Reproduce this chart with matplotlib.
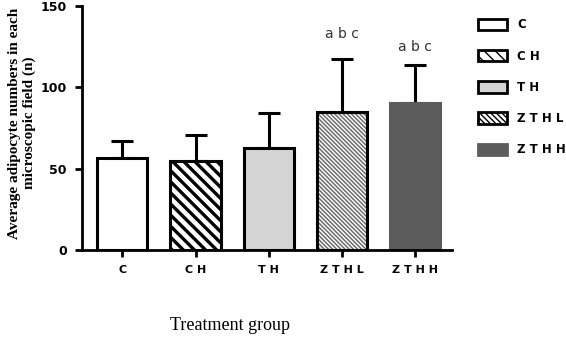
import matplotlib
matplotlib.use("Agg")
import matplotlib.pyplot as plt
from matplotlib.patches import Patch
import numpy as np

# data
groups = ["C", "CH", "TH", "ZTHL", "ZTHH"]
tick_labels = ["C", "C H", "T H", "Z T H L", "Z T H H"]
means = [56.4, 54.9, 62.5, 85.0, 90.2]
sd = [10.8, 15.8, 21.5, 32.2, 23.3]
sig_labels = ["", "", "", "a b c", "a b c"]
sig_y = [0, 0, 0, 132.5, 125.0]

fills = ["white", "white", "#d4d4d4", "white", "#5c5c5c"]
edges = ["black", "black", "black", "black", "#5c5c5c"]
hatches = [None, "\\\\\\", None, "\\" * 8, None]

fig = plt.figure(figsize=(5.66, 3.5), dpi=100)
fig.patch.set_facecolor("white")
ax = fig.add_axes([82 / 566, 1 - 250 / 350, 370 / 566, 244 / 350])

x = np.arange(len(groups))
w = 0.685
handles = []
for i in range(len(groups)):
    ax.errorbar(x[i], means[i], yerr=[[0], [sd[i]]], fmt="none",
                ecolor="black", elinewidth=2.2, capsize=8, capthick=2.2, zorder=1)
    if i == 3:
        # dense grey stripes, black outline drawn on top
        b = ax.bar(x[i], means[i], w, color="white", edgecolor="#6e6e6e",
                   hatch=hatches[i], linewidth=0, zorder=2)
        for p in b:
            if hasattr(p, "set_hatch_linewidth"):
                p.set_hatch_linewidth(1.1)
        ax.bar(x[i], means[i], w, color="none", edgecolor="black",
               linewidth=2.2, zorder=3)
        h = Patch(facecolor="white", edgecolor="black", hatch="\\" * 6,
                  linewidth=2.0)
    else:
        b = ax.bar(x[i], means[i], w, color=fills[i], edgecolor=edges[i],
                   hatch=hatches[i], linewidth=2.2, zorder=2)
        for p in b:
            if hasattr(p, "set_hatch_linewidth") and hatches[i]:
                p.set_hatch_linewidth(2.4)
        h = Patch(facecolor=fills[i], edgecolor=edges[i], hatch=hatches[i],
                  linewidth=2.0)
    handles.append(h)
    if sig_labels[i]:
        ax.text(x[i], sig_y[i], sig_labels[i], ha="center", va="center",
                fontsize=10, color="#333333", family="DejaVu Sans")

ax.set_xlim(-0.55, 4.5)
ax.set_ylim(0, 150)
ax.set_yticks([0, 50, 100, 150])
ax.set_xticks(x)
ax.set_xticklabels(tick_labels)
for lab in ax.get_xticklabels():
    lab.set_fontweight("bold")
    lab.set_fontsize(8)
    lab.set_family("DejaVu Sans")
for lab in ax.get_yticklabels():
    lab.set_fontweight("bold")
    lab.set_fontsize(9)
    lab.set_family("DejaVu Sans")
ax.tick_params(axis="both", width=2, length=5, direction="out", pad=6)
for s in ["top", "right"]:
    ax.spines[s].set_visible(False)
for s in ["left", "bottom"]:
    ax.spines[s].set_linewidth(2)

fig.text(22 / 566, 1 - 123 / 350,
         "Average adipocyte numbers in each\nmicroscopic field (n)",
         rotation=90, ha="center", va="center", fontsize=11,
         fontweight="bold", family="Liberation Serif", linespacing=1.2)
fig.text(230 / 566, 1 - 326 / 350, "Treatment group", ha="center",
         va="center", fontsize=13, family="Liberation Serif")

leg = fig.legend(handles, tick_labels, loc="upper left",
                 bbox_to_anchor=(470 / 566, 1 - 10 / 350), frameon=False,
                 handlelength=2.4, handleheight=1.1, labelspacing=1.55,
                 handletextpad=0.9, borderpad=0.2,
                 prop={"family": "DejaVu Sans", "weight": "bold", "size": 8.5})

fig.savefig("out.png", dpi=100, facecolor="white")
